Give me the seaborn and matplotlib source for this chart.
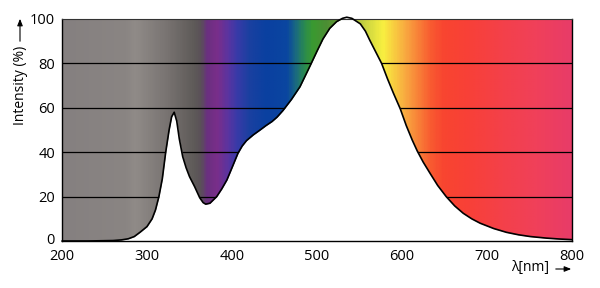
import numpy as np
import pandas as pd
import matplotlib
matplotlib.use("Agg")
import matplotlib.pyplot as plt
import matplotlib.transforms as mtransforms
from matplotlib.colors import LinearSegmentedColormap
import seaborn as sns

# ---- data ----
wavelength = [200, 230, 260, 270, 278, 285, 292, 300, 306, 310, 314, 318, 322, 326,
              329, 332, 335, 338, 342, 346, 350, 356, 362, 366, 369, 374, 378, 382,
              388, 394, 400, 407, 412, 417, 425, 433, 440, 447, 453, 460, 470, 480,
              492, 500, 507, 515, 523, 530, 535, 541, 551, 557, 562, 570, 576, 583,
              590, 598, 605, 612, 618, 625, 633, 642, 652, 662, 672, 682, 692, 708,
              723, 737, 751, 770, 785, 800]
intensity = [0, 0, 0.2, 0.5, 1, 2, 4, 6.5, 10, 14, 20, 28, 40, 50,
             56, 58, 54, 46, 38, 33, 29, 24.5, 19.5, 17.3, 16.6, 17, 18.5, 20,
             23.5, 27.5, 33, 39.5, 42.8, 45.2, 47.8, 50, 52, 53.8, 55.8, 58.8, 63.8, 69.5,
             79, 85.5, 91, 95.8, 98.8, 100.3, 100.8, 100.3, 97.8, 94.5, 90.5, 84.5, 80, 73,
             66.5, 59.5, 52, 45.5, 40.5, 35.5, 30.5, 25, 20, 15.8, 12.5, 10, 8, 5.6,
             3.9, 2.8, 2, 1.3, 0.9, 0.6]

x_ticks = [200, 300, 400, 500, 600, 700, 800]
y_ticks = [0, 20, 40, 60, 80, 100]

# spectrum background colour stops (wavelength, colour)
stop_nm = [200, 275, 285, 320, 355, 363, 370, 382, 395, 405, 420, 440, 465, 475,
           485, 495, 510, 530, 545, 560, 578, 590, 605, 620, 635, 650, 680, 720,
           760, 800]
stop_col = ["#858080", "#8a8583", "#908b88", "#7a7573", "#5e5a58", "#5a5058",
            "#6a3080", "#7a2e8a", "#5a34a0", "#3a3aa8", "#1a40a0", "#0a40a0",
            "#0a46a0", "#1a6a80", "#2a8a50", "#3a9a30", "#4a8e34", "#6a9a30",
            "#a8c040", "#d0d840", "#f8f040", "#f8d040", "#f8a840", "#f88038",
            "#f85a30", "#f84530", "#f84038", "#f4404a", "#f0405a", "#e83c68"]

df = pd.DataFrame({"wavelength": wavelength, "intensity": intensity})

sns.set_style("white")
plt.rcParams["font.family"] = ["Open Sans", "DejaVu Sans"]

fig = plt.figure(figsize=(6.0, 2.88), dpi=100)
ax = fig.add_axes([62 / 600, 47 / 288, 510 / 600, 222 / 288])

# gradient background
pos = [(v - stop_nm[0]) / (stop_nm[-1] - stop_nm[0]) for v in stop_nm]
cmap = LinearSegmentedColormap.from_list("spec", list(zip(pos, stop_col)))
grad = np.linspace(0, 1, 600).reshape(1, -1)
ax.imshow(grad, cmap=cmap, aspect="auto", extent=[200, 800, 0, 100],
          interpolation="bilinear", zorder=0)

# white area under the curve
ax.fill_between(df["wavelength"], 0, df["intensity"], color="white", zorder=1, lw=0)

# grid lines
for yv in y_ticks[1:-1]:
    ax.axhline(yv, color="black", lw=0.9, zorder=0.5)

sns.lineplot(data=df, x="wavelength", y="intensity", color="black", lw=1.2,
             ax=ax, zorder=3, clip_on=False)

ax.set_xlim(200, 800)
ax.set_ylim(0, 100)
ax.set_xticks(x_ticks)
ax.set_yticks(y_ticks)
ax.tick_params(length=0, labelsize=10.5, colors="black")
ax.tick_params(axis="x", pad=6)
ax.tick_params(axis="y", pad=5)
ax.set_xlabel("")
ax.set_ylabel("")
for s in ax.spines.values():
    s.set_visible(True)
    s.set_color("black")
    s.set_linewidth(1.0)
ax.spines["top"].set_color("#333333")
ax.spines["top"].set_linewidth(0.8)

# lift the "0" label slightly, as in the reference
lbl0 = ax.get_yticklabels()[0]
lbl0.set_transform(lbl0.get_transform() +
                   mtransforms.ScaledTranslation(0, 2 / 100, fig.dpi_scale_trans))

# axis labels with arrows
fig.text(21 / 600, 1 - 85 / 288, "Intensity (%)", rotation=90, ha="center",
         va="center", fontsize=10, color="black")
fig.add_artist(matplotlib.patches.FancyArrowPatch(
    (20 / 600, 1 - 44 / 288), (20 / 600, 1 - 16 / 288), transform=fig.transFigure,
    arrowstyle="-|>,head_length=4,head_width=1.6", color="black", lw=0.8))
fig.text(530 / 600, 1 - 268 / 288, "λ[nm]", ha="center", va="center",
         fontsize=10, color="black")
fig.add_artist(matplotlib.patches.FancyArrowPatch(
    (553 / 600, 1 - 269 / 288), (574 / 600, 1 - 269 / 288), transform=fig.transFigure,
    arrowstyle="-|>,head_length=4,head_width=1.6", color="black", lw=0.8))

fig.savefig("out.png", dpi=100, facecolor="white")
